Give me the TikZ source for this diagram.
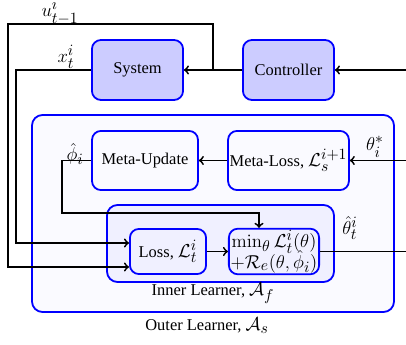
\RequirePackage{fix-cm}
\documentclass[tikz,border=0pt]{standalone}
\usepackage{amsmath,amssymb}
\usepackage[no-math]{fontspec}
\setmainfont{Liberation Serif}
\DeclareMathSizes{11}{12.5}{10.5}{8}
\usepackage{tikz}
\usetikzlibrary{calc,arrows}
\tikzset{
   every node/.style={font=\fontsize{11}{12.5}\selectfont},
   block/.style={draw=blue, line width=1.2pt, rounded corners=6pt, fill=blue!20,
                 minimum width=2.14cm, minimum height=1.41cm},
   metablock/.style={draw=blue, line width=1.2pt, rounded corners=6pt, fill=blue!2,
                 minimum height=1.39cm, inner xsep=0pt},
   innerblock/.style={draw=blue, line width=1.2pt, rounded corners=6pt, fill=blue!6,
                 minimum height=1.06cm, inner xsep=0pt},
   learner/.style={draw=blue, line width=1.2pt, rounded corners=7pt},
   flow/.style={black, line width=1.2pt}
}

\begin{document}
\begin{tikzpicture}[x=0.0235cm,y=-0.0235cm,>=to]
\useasboundingbox (0,0) rectangle (406,345);

% learners
\draw[learner, fill=blue!2] (32,115) rectangle (394,312);
\node (outerlbl) at (207,326) {Outer Learner, $\mathcal{A}_s$};
\draw[learner, fill=blue!6] (107,205) rectangle (334,282);
\node (innerlbl) at (213,293) {Inner Learner, $\mathcal{A}_f$};

% control loop
\node[block] (sys) at (137.5,70) {System};
\node[block] (ctrl) at (288.5,70) {Controller};

% meta level
\node[metablock, minimum width=2.49cm] (mu) at (145,160.5) {Meta-Update};
\node[metablock, minimum width=2.84cm] (ml) at (288.5,160.5) {Meta-Loss, $\mathcal{L}_s^{i+1}$};

% inner level
\node[innerblock, minimum width=1.79cm] (loss) at (168,251.5) {Loss, $\mathcal{L}_t^i$};
\node[innerblock, minimum width=2.12cm, align=center, inner ysep=1pt] (opt) at (274,251.5)
   {$\min_\theta \mathcal{L}_t^i(\theta)$\\[-3pt]$+\mathcal{R}_e(\theta,\hat{\phi}_i)$};

% labels
\node[inner sep=1pt] (ulbl) at (60,12) {$u_{t-1}^i$};
\node (xlbl) at (66,57) {$x_t^i$};
\node (philbl) at (75,154) {$\hat{\phi}_i$};
\node (thslbl) at (375,147) {$\theta_i^*$};
\node (thtlbl) at (350,228) {$\hat{\theta}_t^i$};

\coordinate (ctrlin) at (406,70);
\coordinate (thin) at (406,160.5);
\coordinate (thout) at (406,251.5);
\coordinate (uj) at (213,70);
\coordinate (uc) at (8,24);
\coordinate (ub) at (8,267);
\coordinate (xc) at (16,243);
\coordinate (pc) at (62,213);
\coordinate (pt) at (259,213);

\path[flow,->]
(ctrlin) edge (ctrl)
(ctrl) edge (sys)
(thin) edge (ml)
(ml) edge (mu)
(loss) edge (opt)
      ;
\path[flow,-] (opt) edge (thout);

% feedback lines
\draw[flow,->] (uj) |- (uc) -- (ub) -- (loss.west |- ub);
\draw[flow,->] (sys.west) -| (xc) -- (loss.west |- xc);
\draw[flow,->] (mu.west) -| (pc) -- (pt) -- (pt |- opt.north);

\end{tikzpicture}
\end{document}
